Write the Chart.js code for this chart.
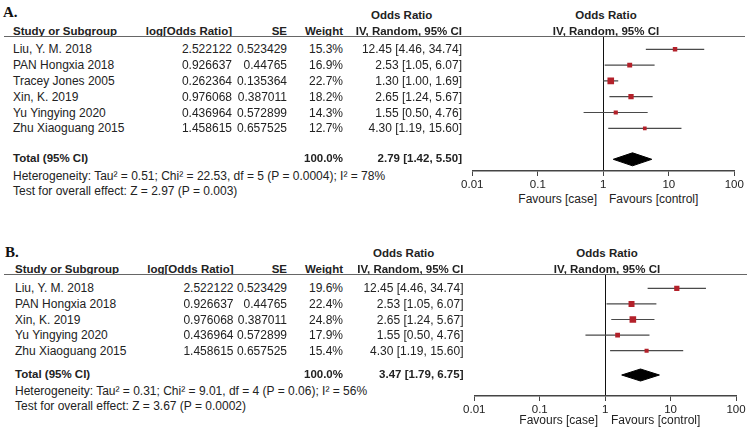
<!DOCTYPE html>
<html>
<head>
<meta charset="utf-8">
<script src="https://cdn.jsdelivr.net/npm/chart.js@4.4.1/dist/chart.umd.min.js"></script>
<style>
  html, body { margin: 0; padding: 0; background: #fff; }
  #page {
    position: relative; width: 750px; height: 431px; overflow: hidden;
    font-family: "Liberation Sans", Arial, sans-serif; font-size: 12px; color: #222;
  }
  .t { position: absolute; white-space: nowrap; line-height: 1; }
  .b { font-weight: bold; font-size: 11.5px; }
  .panel-label { font-family: "Liberation Serif", "Times New Roman", serif; font-weight: bold; font-size: 15px; color: #111; }
  .rule { position: absolute; height: 0; border-top: 1.5px solid #666; }
  canvas { position: absolute; }
</style>
</head>
<body>
<div id="page">
  <canvas id="plotA"></canvas>
  <canvas id="plotB"></canvas>
</div>
<script>
// ---- Panel A data ----
const studiesA = ['Liu, Y. M. 2018', 'PAN Hongxia 2018', 'Tracey Jones 2005', 'Xin, K. 2019', 'Yu Yingying 2020', 'Zhu Xiaoguang 2015'];
const logOrA = ['2.522122', '0.926637', '0.262364', '0.976068', '0.436964', '1.458615'];
const seA = ['0.523429', '0.44765', '0.135364', '0.387011', '0.572899', '0.657525'];
const weightA = [15.3, 16.9, 22.7, 18.2, 14.3, 12.7];
const orA = [12.45, 2.53, 1.30, 2.65, 1.55, 4.30];
const lowA = [4.46, 1.05, 1.00, 1.24, 0.50, 1.19];
const highA = [34.74, 6.07, 1.69, 5.67, 4.76, 15.60];
const totalA = [2.79, 1.42, 5.50]; // estimate, lower, upper
const hetA = 'Heterogeneity: Tau\u00b2 = 0.51; Chi\u00b2 = 22.53, df = 5 (P = 0.0004); I\u00b2 = 78%';
const effectA = 'Test for overall effect: Z = 2.97 (P = 0.003)';

// ---- Panel B data ----
const studiesB = ['Liu, Y. M. 2018', 'PAN Hongxia 2018', 'Xin, K. 2019', 'Yu Yingying 2020', 'Zhu Xiaoguang 2015'];
const logOrB = ['2.522122', '0.926637', '0.976068', '0.436964', '1.458615'];
const seB = ['0.523429', '0.44765', '0.387011', '0.572899', '0.657525'];
const weightB = [19.6, 22.4, 24.8, 17.9, 15.4];
const orB = [12.45, 2.53, 2.65, 1.55, 4.30];
const lowB = [4.46, 1.05, 1.24, 0.50, 1.19];
const highB = [34.74, 6.07, 5.67, 4.76, 15.60];
const totalB = [3.47, 1.79, 6.75];
const hetB = 'Heterogeneity: Tau\u00b2 = 0.31; Chi\u00b2 = 9.01, df = 4 (P = 0.06); I\u00b2 = 56%';
const effectB = 'Test for overall effect: Z = 3.67 (P = 0.0002)';

// shared axis
const axisTicks = [0.01, 0.1, 1, 10, 100];

// ---- page geometry (pixels) ----
const layoutA = {
  label: 'A.', labelX: 3, labelY: 12, head1Y: 16, head2Y: 32, ruleY: 37, ruleEnd: 745,
  firstRow: 49.3, pitch: 15.8, totalY: 159.3, hetY: 175.7, effY: 190.7,
  axisY: 171, favY: 199, x001: 472.3, x100: 734.3,
  study: 13, logor: 232, se: 287, weight: 343, ci: 462, ciHead: 371, plotHead: 606,
  favCase: 597, favCtrl: 609, diamondHalf: 6.5
};
const layoutB = {
  label: 'B.', labelX: 5, labelY: 252, head1Y: 254, head2Y: 270, ruleY: 275, ruleEnd: 747,
  firstRow: 288.3, pitch: 15.6, totalY: 375, hetY: 391, effY: 406,
  axisY: 396, favY: 420, x001: 474.3, x100: 736,
  study: 15, logor: 233.5, se: 287, weight: 343, ci: 463.5, ciHead: 373, plotHead: 607,
  favCase: 598, favCtrl: 611, diamondHalf: 6
};

const page = document.getElementById('page');

function addText(text, x, y, align, cls) {
  const el = document.createElement('div');
  el.className = 't' + (cls ? ' ' + cls : '');
  el.textContent = text;
  el.style.top = y + 'px';
  if (align === 'right') {
    el.style.right = (750 - x) + 'px';
    el.style.transform = 'translateY(-50%)';
  } else if (align === 'center') {
    el.style.left = x + 'px';
    el.style.transform = 'translate(-50%, -50%)';
  } else {
    el.style.left = x + 'px';
    el.style.transform = 'translateY(-50%)';
  }
  page.appendChild(el);
}

function fmtCI(est, lo, hi) {
  return est.toFixed(2) + ' [' + lo.toFixed(2) + ', ' + hi.toFixed(2) + ']';
}

function buildTable(p, studies, logOr, se, weight, or, low, high, total, het, effect) {
  addText(p.label, p.labelX, p.labelY, 'left', 'panel-label');
  addText('Odds Ratio', p.ciHead, p.head1Y, 'left', 'b');
  addText('Odds Ratio', p.plotHead, p.head1Y, 'center', 'b');
  addText('Study or Subgroup', p.study, p.head2Y, 'left', 'b');
  addText('log[Odds Ratio]', p.logor, p.head2Y, 'right', 'b');
  addText('SE', p.se, p.head2Y, 'right', 'b');
  addText('Weight', p.weight, p.head2Y, 'right', 'b');
  addText('IV, Random, 95% CI', p.ci, p.head2Y, 'right', 'b');
  addText('IV, Random, 95% CI', p.plotHead, p.head2Y, 'center', 'b');

  const rule = document.createElement('div');
  rule.className = 'rule';
  rule.style.left = '4px';
  rule.style.top = (p.ruleY - 0.75) + 'px';
  rule.style.width = (p.ruleEnd - 4) + 'px';
  page.appendChild(rule);

  studies.forEach((name, i) => {
    const y = p.firstRow + i * p.pitch;
    addText(name, p.study, y);
    addText(logOr[i], p.logor, y, 'right');
    addText(se[i], p.se, y, 'right');
    addText(weight[i].toFixed(1) + '%', p.weight, y, 'right');
    addText(fmtCI(or[i], low[i], high[i]), p.ci, y, 'right');
  });

  addText('Total (95% CI)', p.study, p.totalY, 'left', 'b');
  addText('100.0%', p.weight, p.totalY, 'right', 'b');
  addText(fmtCI(total[0], total[1], total[2]), p.ci, p.totalY, 'right', 'b');
  addText(het, p.study, p.hetY);
  addText(effect, p.study, p.effY);
  addText('Favours [case]', p.favCase, p.favY, 'right');
  addText('Favours [control]', p.favCtrl, p.favY, 'left');
}

function buildPlot(canvasId, p, or, low, high, weight, total) {
  const canvas = document.getElementById(canvasId);
  const left = Math.floor(p.x001 - 32);
  const top = Math.floor(p.ruleY - 8);
  const width = 750 - left;
  const axisBox = 20;
  const height = Math.round(p.axisY + axisBox - top);
  canvas.width = width;
  canvas.height = height;
  canvas.style.left = left + 'px';
  canvas.style.top = top + 'px';
  canvas.style.width = width + 'px';
  canvas.style.height = height + 'px';

  // rows in study units: row i sits at firstRow + i * pitch
  const yMin = (p.ruleY - p.firstRow) / p.pitch;
  const yMax = (p.axisY - p.firstRow) / p.pitch;
  const totalRow = (p.totalY - p.firstRow) / p.pitch;
  const half = p.diamondHalf / p.pitch;
  const maxW = Math.max(...weight);

  const ciSets = or.map((v, i) => ({
    type: 'scatter',
    data: [{ x: low[i], y: i }, { x: high[i], y: i }],
    showLine: true,
    borderColor: '#4a4a4a',
    borderWidth: 1.2,
    pointRadius: 0,
    order: 2
  }));

  const squares = {
    type: 'scatter',
    data: or.map((v, i) => ({ x: v, y: i })),
    pointStyle: 'rect',
    pointRadius: weight.map(w => (6.6 * w / maxW) / Math.SQRT2),
    backgroundColor: '#b3212a',
    borderWidth: 0,
    order: 1
  };

  const diamond = {
    type: 'scatter',
    data: [
      { x: total[1], y: totalRow },
      { x: total[0], y: totalRow - half },
      { x: total[2], y: totalRow },
      { x: total[0], y: totalRow + half },
      { x: total[1], y: totalRow }
    ],
    showLine: true,
    fill: 'shape',
    backgroundColor: '#000',
    borderColor: '#000',
    borderWidth: 1,
    pointRadius: 0,
    order: 1
  };

  return new Chart(canvas.getContext('2d'), {
    type: 'scatter',
    data: { datasets: [...ciSets, squares, diamond] },
    options: {
      responsive: false,
      animation: false,
      events: [],
      layout: { padding: { left: p.x001 - left, right: 750 - p.x100, top: p.ruleY - top, bottom: 0 } },
      plugins: { legend: { display: false }, tooltip: { enabled: false } },
      scales: {
        x: {
          type: 'logarithmic',
          min: 0.01,
          max: 100,
          afterBuildTicks: scale => { scale.ticks = axisTicks.map(v => ({ value: v })); },
          afterFit: scale => { scale.height = axisBox; },
          ticks: {
            autoSkip: false,
            maxRotation: 0,
            padding: 2,
            color: '#222',
            font: { family: '"Liberation Sans", Arial, sans-serif', size: 11.5 },
            callback: v => String(v)
          },
          grid: {
            drawOnChartArea: true,
            color: ctx => (ctx.tick && ctx.tick.value === 1 ? '#111' : 'rgba(0,0,0,0)'),
            lineWidth: 1,
            tickColor: '#444',
            tickLength: 5
          },
          border: { display: true, color: '#444', width: 1.5 }
        },
        y: {
          type: 'linear',
          display: false,
          reverse: true,
          min: yMin,
          max: yMax
        }
      }
    }
  });
}

buildTable(layoutA, studiesA, logOrA, seA, weightA, orA, lowA, highA, totalA, hetA, effectA);
buildTable(layoutB, studiesB, logOrB, seB, weightB, orB, lowB, highB, totalB, hetB, effectB);
buildPlot('plotA', layoutA, orA, lowA, highA, weightA, totalA);
buildPlot('plotB', layoutB, orB, lowB, highB, weightB, totalB);
</script>
</body>
</html>
